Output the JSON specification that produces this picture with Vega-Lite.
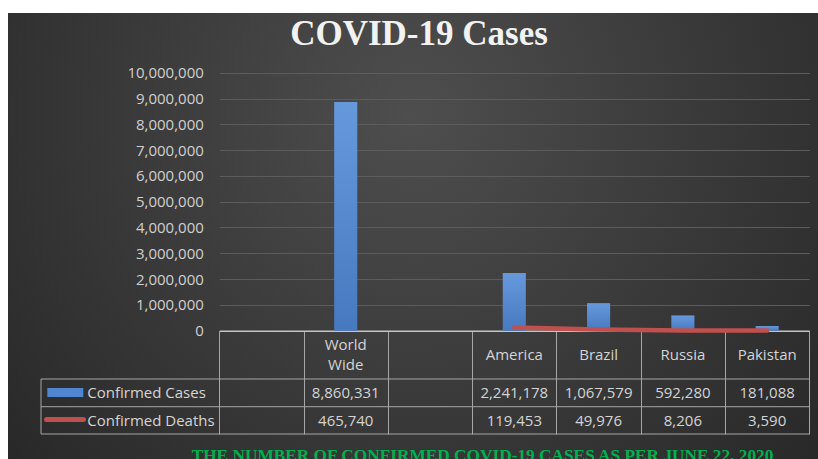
{
  "$schema": "https://vega.github.io/schema/vega-lite/v6.json",
  "width": 810,
  "height": 446,
  "autosize": {"type": "none"},
  "padding": {"left": 8, "top": 13, "right": 0, "bottom": 0},
  "background": "#ffffff",
  "config": {
    "view": {
      "stroke": null,
      "fill": {
        "gradient": "radial",
        "x1": 0.5, "y1": 0.35, "x2": 0.5, "y2": 0.35, "r1": 0, "r2": 0.75,
        "stops": [
          {"offset": 0, "color": "#4e4e4e"},
          {"offset": 1, "color": "#232323"}
        ]
      }
    },
    "font": "Open Sans"
  },
  "title": {
    "text": "COVID-19 Cases",
    "font": "Liberation Serif",
    "fontSize": 35,
    "fontWeight": "bold",
    "color": "#f2f2f2",
    "anchor": "middle",
    "frame": "group",
    "dx": 6,
    "offset": -67,
    "baseline": "alphabetic"
  },
  "datasets": {
    "covid": [
      {"category": "World Wide", "cases": 8860331, "deaths": 465740},
      {"category": "America", "cases": 2241178, "deaths": 119453},
      {"category": "Brazil", "cases": 1067579, "deaths": 49976},
      {"category": "Russia", "cases": 592280, "deaths": 8206},
      {"category": "Pakistan", "cases": 181088, "deaths": 3590}
    ]
  },
  "data": {"name": "covid"},
  "resolve": {"scale": {"x": "independent"}},
  "layer": [
    {
      "layer": [
        {
          "mark": {"type": "bar", "width": {"band": 0.274}, "color": {"gradient": "linear", "x1": 0, "y1": 0, "x2": 0, "y2": 1, "stops": [{"offset": 0, "color": "#6699dc"}, {"offset": 1, "color": "#4779c0"}]}},
          "encoding": {
            "x": {
              "field": "category", "type": "nominal", "sort": null,
              "scale": {"domain": [" ", "World Wide", "  ", "America", "Brazil", "Russia", "Pakistan"], "range": [211.3, 801.3], "paddingInner": 0, "paddingOuter": 0},
              "axis": {"orient": "bottom", "offset": -128.3, "labels": false, "title": null, "ticks": true, "tickBand": "extent", "tickSize": 103.3, "tickColor": "#a6a6a6", "tickWidth": 1, "domain": true, "domainColor": "#c4c4c4", "domainWidth": 1.5, "grid": false}
            },
            "y": {
              "field": "cases", "type": "quantitative", "title": null,
              "scale": {"domain": [0, 10000000], "range": [317.7, 59.7], "nice": false, "zero": false},
              "axis": {"values": [0, 1000000, 2000000, 3000000, 4000000, 5000000, 6000000, 7000000, 8000000, 9000000, 10000000], "labelExpr": "format(datum.value, ',')", "offset": -195.3, "ticks": false, "tickSize": 0, "domain": false, "labelPadding": 0, "grid": true, "gridColor": "#5c5c5c", "gridWidth": 1, "labelColor": "#d0d0d0", "labelFont": "Open Sans", "labelFontSize": 15, "title": null}
            }
          }
        },
        {
          "transform": [{"filter": "datum.category !== 'World Wide'"}],
          "mark": {"type": "line", "color": "#c0504d", "strokeWidth": 4.5, "strokeCap": "round"},
          "encoding": {
            "x": {"field": "category", "type": "nominal", "sort": null},
            "y": {"field": "deaths", "type": "quantitative", "title": null}
          }
        },
        {
          "transform": [{"filter": "indexof(datum.category, ' ') < 0"}],
          "mark": {"type": "text", "fontSize": 15, "color": "#d4d4d4", "baseline": "middle", "align": "center"},
          "encoding": {
            "x": {"field": "category", "type": "nominal", "sort": null},
            "y": {"datum": -942000, "type": "quantitative"},
            "text": {"field": "category"}
          }
        },
        {
          "transform": [{"filter": "indexof(datum.category, ' ') >= 0"}],
          "mark": {"type": "text", "fontSize": 15, "color": "#d4d4d4", "baseline": "middle", "align": "center", "lineBreak": " ", "lineHeight": 20},
          "encoding": {
            "x": {"field": "category", "type": "nominal", "sort": null},
            "y": {"datum": -554000, "type": "quantitative"},
            "text": {"field": "category"}
          }
        },
        {
          "mark": {"type": "text", "fontSize": 15, "color": "#d4d4d4", "baseline": "middle", "align": "center"},
          "encoding": {
            "x": {"field": "category", "type": "nominal", "sort": null},
            "y": {"datum": -2415000, "type": "quantitative"},
            "text": {"field": "cases", "type": "quantitative", "format": ","}
          }
        },
        {
          "mark": {"type": "text", "fontSize": 15, "color": "#d4d4d4", "baseline": "middle", "align": "center"},
          "encoding": {
            "x": {"field": "category", "type": "nominal", "sort": null},
            "y": {"datum": -3481000, "type": "quantitative"},
            "text": {"field": "deaths", "type": "quantitative", "format": ","}
          }
        }
      ]
    },
    {
      "layer": [
        {
          "data": {"values": [{}]},
          "mark": {"type": "rule", "color": "#a6a6a6", "strokeWidth": 1},
          "encoding": {
            "x": {"datum": -2.1154, "type": "quantitative", "scale": {"domain": [0, 7], "range": [211.3, 801.3], "nice": false, "zero": false}, "axis": null},
            "x2": {"datum": 7},
            "y": {"datum": -1872000, "type": "quantitative"}
          }
        },
        {
          "data": {"values": [{}]},
          "mark": {"type": "rule", "color": "#a6a6a6", "strokeWidth": 1},
          "encoding": {
            "x": {"datum": -2.1154, "type": "quantitative"},
            "x2": {"datum": 7},
            "y": {"datum": -2946000, "type": "quantitative"}
          }
        },
        {
          "data": {"values": [{}]},
          "mark": {"type": "rule", "color": "#a6a6a6", "strokeWidth": 1},
          "encoding": {
            "x": {"datum": -2.1154, "type": "quantitative"},
            "x2": {"datum": 7},
            "y": {"datum": -4004000, "type": "quantitative"}
          }
        },
        {
          "data": {"values": [{}]},
          "mark": {"type": "rule", "color": "#a6a6a6", "strokeWidth": 1},
          "encoding": {
            "x": {"datum": -2.1154, "type": "quantitative"},
            "y": {"datum": -1872000, "type": "quantitative"},
            "y2": {"datum": -4004000}
          }
        },
        {
          "data": {"values": [{}]},
          "mark": {"type": "rect", "color": "#4f86cf"},
          "encoding": {
            "x": {"datum": -2.0407, "type": "quantitative"},
            "x2": {"datum": -1.6136},
            "y": {"datum": -2221000, "type": "quantitative"},
            "y2": {"datum": -2570000}
          }
        },
        {
          "data": {"values": [{}]},
          "mark": {"type": "rule", "color": "#c0504d", "strokeWidth": 5, "strokeCap": "round"},
          "encoding": {
            "x": {"datum": -2.0502, "type": "quantitative"},
            "x2": {"datum": -1.6112},
            "y": {"datum": -3442000, "type": "quantitative"}
          }
        },
        {
          "data": {"values": [{"label": "Confirmed Cases"}]},
          "mark": {"type": "text", "fontSize": 15, "color": "#d4d4d4", "baseline": "middle", "align": "left"},
          "encoding": {
            "x": {"datum": -1.5661, "type": "quantitative"},
            "y": {"datum": -2415000, "type": "quantitative"},
            "text": {"field": "label"}
          }
        },
        {
          "data": {"values": [{"label": "Confirmed Deaths"}]},
          "mark": {"type": "text", "fontSize": 15, "color": "#d4d4d4", "baseline": "middle", "align": "left"},
          "encoding": {
            "x": {"datum": -1.5661, "type": "quantitative"},
            "y": {"datum": -3481000, "type": "quantitative"},
            "text": {"field": "label"}
          }
        },
        {
          "data": {"values": [{"note": "THE NUMBER OF CONFIRMED COVID-19 CASES AS PER JUNE 22, 2020"}]},
          "mark": {"type": "text", "font": "Liberation Serif", "fontWeight": "bold", "fontSize": 17.3, "color": "#00b050", "baseline": "alphabetic", "align": "center"},
          "encoding": {
            "x": {"datum": 3.1227, "type": "quantitative"},
            "y": {"datum": -5043000, "type": "quantitative"},
            "text": {"field": "note"}
          }
        }
      ]
    }
  ]
}
